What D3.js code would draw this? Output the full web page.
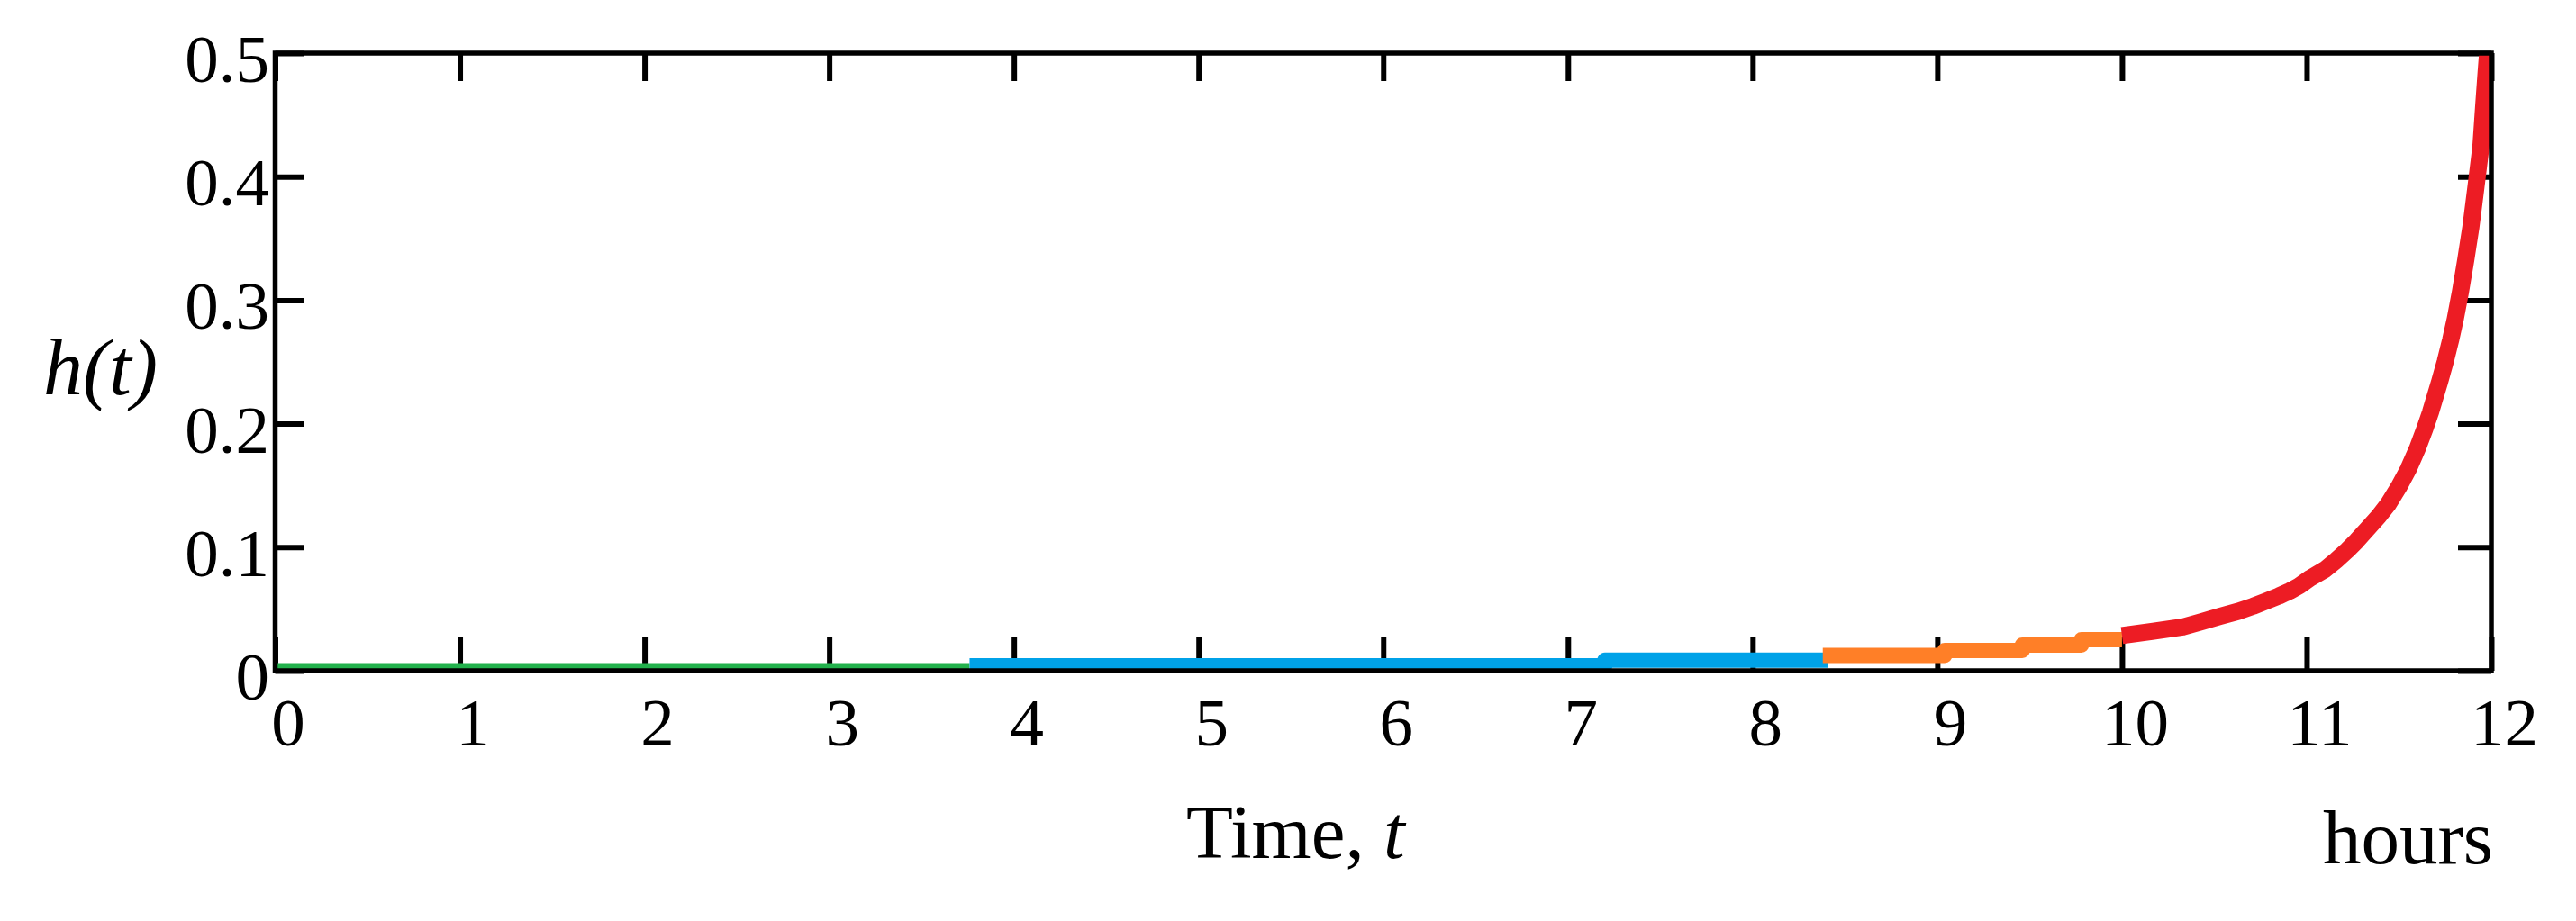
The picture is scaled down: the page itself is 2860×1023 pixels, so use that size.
<!DOCTYPE html>
<html>
<head>
<meta charset="utf-8">
<script src="https://cdn.jsdelivr.net/npm/d3@7"></script>
<style>
  html, body { margin: 0; padding: 0; background: #fff; }
  svg { display: block; }
  text { font-family: "Liberation Serif", "Times New Roman", serif; fill: #000; }
</style>
</head>
<body>
<svg id="chart"></svg>
<script>
// tick values
var xTicks = [0, 1, 2, 3, 4, 5, 6, 7, 8, 9, 10, 11, 12]
var yTicks = [0, 0.1, 0.2, 0.3, 0.4, 0.5]

// green piece
var greenT = [0, 3.76]
var greenH = [0, 0]

// blue piece (steps)
var blueT = [3.76, 7.2, 8.41]
var blueH = [0.004, 0.0085, 0.0085]

// orange piece (steps)
var orangeT = [8.38, 9.04, 9.46, 9.78, 10.0]
var orangeH = [0.0124, 0.0164, 0.0208, 0.0251, 0.0251]

// red piece
var redT = [10.0, 10.17, 10.33, 10.43, 10.53, 10.63, 10.71, 10.78, 10.85, 10.91, 10.96, 11.02, 11.1, 11.16,
  11.22, 11.27, 11.33, 11.39, 11.44, 11.5, 11.55, 11.6, 11.64, 11.67, 11.69, 11.72, 11.75, 11.78,
  11.805, 11.833, 11.862, 11.889, 11.917, 11.943, 11.958, 11.972, 11.985]
var redH = [0.0285, 0.032, 0.0355, 0.0396, 0.044, 0.0481, 0.0522, 0.0563, 0.0605, 0.0646, 0.0687, 0.075, 0.082, 0.0894,
  0.0975, 0.105, 0.115, 0.125, 0.1345, 0.149, 0.163, 0.18, 0.196, 0.209, 0.219, 0.234, 0.25, 0.268,
  0.285, 0.307, 0.333, 0.359, 0.392, 0.4235, 0.456, 0.485, 0.51]

var width = 2860
var height = 1023
// plot box (window.top is taken, so prefixed names)
var pLeft = 305.5, pRight = 2766, pTop = 59, pBottom = 745

var svg = d3.select('#chart')
    .attr('width', width)
    .attr('height', height)

svg.append('rect')
    .attr('width', width)
    .attr('height', height)
    .attr('fill', '#fff')

var x = d3.scaleLinear().domain([0, 12]).range([pLeft, pRight])
var y = d3.scaleLinear().domain([0, 0.5]).range([pBottom, pTop])

function zip(ts, hs) {
    return ts.map((t, i) => [t, hs[i]])
}

// ticks, all pointing inward
var gx = svg.append('g')
    .attr('transform', 'translate(0,' + pBottom + ')')
    .call(d3.axisBottom(x).tickValues(xTicks).tickSize(-37).tickFormat(d3.format('d')))
gx.selectAll('text')
    .attr('x', 14)
    .attr('y', 83)
    .attr('dy', null)

var gy = svg.append('g')
    .attr('transform', 'translate(' + pLeft + ',0)')
    .call(d3.axisLeft(y).tickValues(yTicks).tickSize(-32)
        .tickFormat(d => d === 0 ? '0' : d3.format('.1f')(d)))
gy.selectAll('text')
    .attr('x', -6.5)
    .attr('y', 31.5)
    .attr('dy', null)

svg.append('g')
    .attr('transform', 'translate(0,' + pTop + ')')
    .call(d3.axisTop(x).tickValues(xTicks).tickSize(-31).tickFormat(''))

svg.append('g')
    .attr('transform', 'translate(' + pRight + ',0)')
    .call(d3.axisRight(y).tickValues(yTicks).tickSize(-37).tickFormat(''))

svg.selectAll('.domain').remove()
svg.selectAll('.tick line')
    .attr('stroke', '#000')
    .attr('stroke-width', 6)
svg.selectAll('.tick text')
    .attr('font-family', '"Liberation Serif", "Times New Roman", serif')
    .attr('font-size', 75)
    .attr('fill', '#000')

// plot lines
svg.append('clipPath')
    .attr('id', 'plotclip')
    .append('rect')
    .attr('x', pLeft)
    .attr('y', pTop)
    .attr('width', pRight - pLeft)
    .attr('height', pBottom - pTop)

var lines = svg.append('g').attr('clip-path', 'url(#plotclip)')

var series = [
    { pts: zip(greenT, greenH), color: '#22B14C', curve: d3.curveLinear, w: 17 },
    { pts: zip(blueT, blueH), color: '#00A2E8', curve: d3.curveStepAfter, w: 17 },
    { pts: zip(orangeT, orangeH), color: '#FF7F27', curve: d3.curveStepAfter, w: 17 },
    { pts: zip(redT, redH), color: '#ED1C24', curve: d3.curveLinear, w: 19 }
]

series.forEach(function(s) {
    var line = d3.line()
        .x(d => x(d[0]))
        .y(d => y(d[1]))
        .curve(s.curve)
    lines.append('path')
        .attr('d', line(s.pts))
        .attr('fill', 'none')
        .attr('stroke', s.color)
        .attr('stroke-width', s.w)
        .attr('stroke-linejoin', 'round')
        .attr('stroke-linecap', 'butt')
})

// frame
svg.append('rect')
    .attr('x', pLeft)
    .attr('y', pTop)
    .attr('width', pRight - pLeft)
    .attr('height', pBottom - pTop)
    .attr('fill', 'none')
    .attr('stroke', '#000')
    .attr('stroke-width', 5.5)

// titles
svg.append('text')
    .attr('x', 48)
    .attr('y', 438)
    .attr('font-size', 88)
    .attr('font-style', 'italic')
    .text('h(t)')

var xt = svg.append('text')
    .attr('x', 1317)
    .attr('y', 953)
    .attr('font-size', 85)
xt.append('tspan').text('Time, ')
xt.append('tspan').attr('font-style', 'italic').text('t')

svg.append('text')
    .attr('x', 2579)
    .attr('y', 959)
    .attr('font-size', 85)
    .text('hours')
</script>
</body>
</html>
